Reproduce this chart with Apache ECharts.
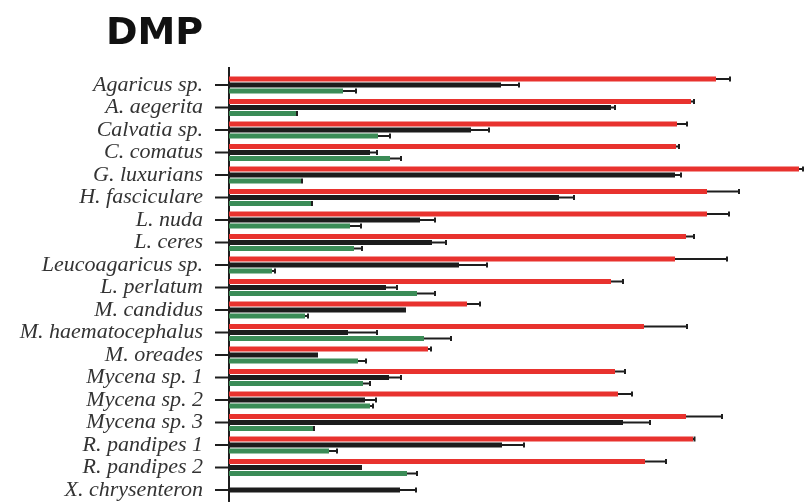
<!DOCTYPE html>
<html><head><meta charset="utf-8">
<script src="https://cdn.jsdelivr.net/npm/echarts@6/dist/echarts.min.js"></script>
<style>html,body{margin:0;padding:0;background:#fff}#c{width:804px;height:502px}</style>
</head><body><div id="c"></div>
<script>
const categories = ["Agaricus sp.","A. aegerita","Calvatia sp.","C. comatus","G. luxurians","H. fasciculare","L. nuda","L. ceres","Leucoagaricus sp.","L. perlatum","M. candidus","M. haematocephalus","M. oreades","Mycena sp. 1","Mycena sp. 2","Mycena sp. 3","R. pandipes 1","R. pandipes 2","X. chrysenteron"];
const redValues   = [487,462,448,447,570,478,478,457,446,382,238,415,199,386,389,457,464,416,null];
const redErrors   = [14,3,10,3,4,32,22,8,52,12,13,43,3,10,14,36,1.5,21,null];
const blackValues = [272,382,242,141,446,330,191,203,230,157,175,119,87,160,136,394,273,131,171];
const blackErrors = [18,4,18,7,6,15,15,14,28,11,1,29,1,12,11,27,22,1,16];
const greenValues = [114,67,149,161,72,82,121,125,43,188,76,195,129,134,141,84,100,178,null];
const greenErrors = [13,1,12,11,1,1,11,8,3,18,3,27,8,7,3,1,8,10,null];

const BAR_W = 5, BAR_STEP = 6, TICK_LEN = 14;
const AX = '#1e1e1e';
function errSeries(vals, errs, offset){
  const data = vals.map((v,i)=> v==null ? [null,i,null] : [v, i, errs[i]]);
  return {
    type:'custom', z:5, clip:false,
    renderItem:function(params, api){
      const v = api.value(0), e = api.value(2);
      if (v==null || isNaN(v)) return;
      const p0 = api.coord([v, api.value(1)]);
      const p1 = api.coord([v+e, api.value(1)]);
      const y = p0[1] + offset;
      const st = {stroke:AX, lineWidth:2};
      return {type:'group', children:[
        {type:'line', shape:{x1:p0[0], y1:y, x2:p1[0], y2:y}, style:st},
        {type:'line', shape:{x1:p1[0], y1:y-2.5, x2:p1[0], y2:y+2.5}, style:st}
      ]};
    },
    encode:{x:0, y:1},
    data:data
  };
}
const tickSeries = {
  type:'custom', z:6, clip:false, silent:true,
  renderItem:function(params, api){
    const p = api.coord([0, api.value(1)]);
    return {type:'line', shape:{x1:p[0]-TICK_LEN, y1:p[1], x2:p[0], y2:p[1]}, style:{stroke:AX, lineWidth:2}};
  },
  encode:{x:0, y:1},
  data:categories.map((c,i)=>[0,i])
};
const chart = echarts.init(document.getElementById('c'));
chart.setOption({
  animation:false,
  title:{text:'DMP', left:106, top:15, padding:0,
    textStyle:{fontFamily:'DejaVu Sans, Liberation Sans, sans-serif', fontWeight:'bold', fontSize:38, color:'#111'}},
  grid:{left:229, right:0, top:73.75, bottom:0.75, containLabel:false},
  xAxis:{type:'value', min:0, max:575, show:false},
  yAxis:{type:'category', data:categories, inverse:true,
    axisLine:{show:true, lineStyle:{color:AX, width:2}},
    axisTick:{show:false},
    axisLabel:{interval:0, margin:26, fontFamily:'Liberation Serif, Times New Roman, serif', fontStyle:'italic', fontSize:22, color:'#333'},
    splitLine:{show:false}
  },
  graphic:[{type:'line', shape:{x1:229, y1:67, x2:229, y2:75}, style:{stroke:AX, lineWidth:2}}],
  series:[
    {type:'bar', data:redValues, barWidth:BAR_W, barGap:'20%', itemStyle:{color:'#e8322e'}},
    {type:'bar', data:blackValues, barWidth:BAR_W, barGap:'20%', itemStyle:{color:'#1c1c1c'}},
    {type:'bar', data:greenValues, barWidth:BAR_W, barGap:'20%', itemStyle:{color:'#3b8c57'}},
    errSeries(redValues, redErrors, -BAR_STEP),
    errSeries(blackValues, blackErrors, 0),
    errSeries(greenValues, greenErrors, BAR_STEP),
    tickSeries
  ]
});
</script></body></html>
